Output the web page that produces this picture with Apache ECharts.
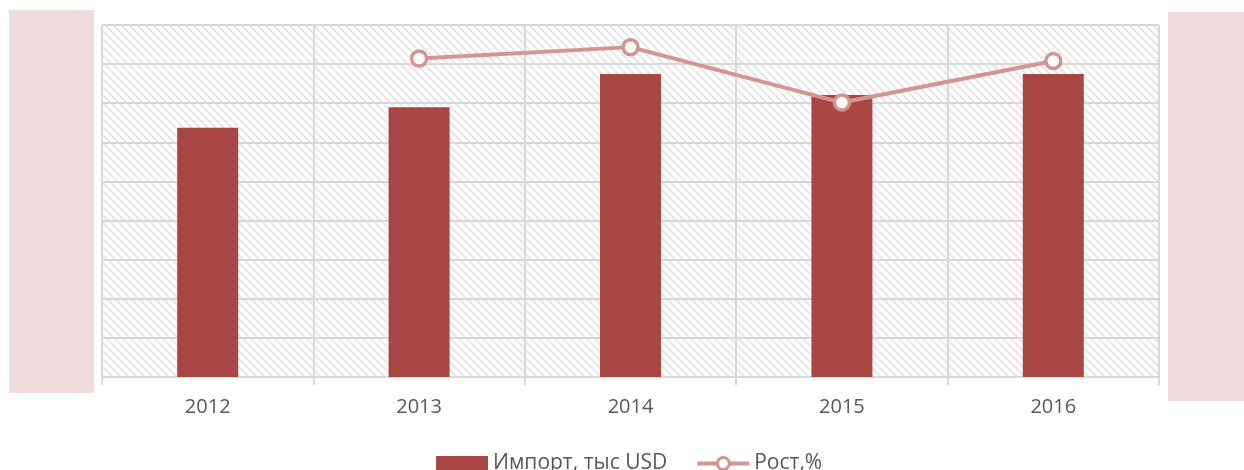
<!DOCTYPE html>
<html>
<head>
<meta charset="utf-8">
<script src="https://cdn.jsdelivr.net/npm/echarts@6/dist/echarts.min.js"></script>
<style>
	html, body { margin: 0; padding: 0; background: #fff; }
	#chart { width: 1244px; height: 470px; }
</style>
</head>
<body>
<div id="chart"></div>
<script>
// данные
const years = ['2012', '2013', '2014', '2015', '2016'];
const importValues = [6370, 6900, 7750, 7210, 7750];
const growthValues = [null, 8.3, 12.3, -7.0, 7.5];

// штриховка фона области построения
const makeHatch = () => {
	const c = document.createElement('canvas');
	c.width = 8;
	c.height = 8;
	const ctx = c.getContext('2d');
	ctx.fillStyle = '#ffffff';
	ctx.fillRect(0, 0, 8, 8);
	ctx.strokeStyle = '#e9e9e9';
	ctx.lineWidth = 2.2;
	ctx.beginPath();
	ctx.moveTo(-2, -2); ctx.lineTo(10, 10);
	ctx.moveTo(-10, -2); ctx.lineTo(2, 10);
	ctx.moveTo(6, -2); ctx.lineTo(18, 10);
	ctx.stroke();
	return c;
};

const gridColor = '#d9d9d9';
const lineColor = '#d39493';
const textColor = '#595959';
const font = '"Open Sans", "Noto Sans", sans-serif';

const option = {
	animation: false,
	textStyle: { fontFamily: font },
	grid: {
		left: 102,
		right: 85,
		top: 25,
		bottom: 93,
		show: true,
		borderWidth: 0,
		backgroundColor: { image: makeHatch(), repeat: 'repeat' },
	},
	graphic: [
		{ type: 'rect', left: 9, top: 10, shape: { width: 85, height: 383 }, style: { fill: '#f0dcdc' }, z: 100 },
		{ type: 'rect', left: 1168, top: 12, shape: { width: 76, height: 389 }, style: { fill: '#f0dcdc' }, z: 100 },
	],
	legend: {
		top: 448,
		left: 431,
		itemGap: 28,
		itemWidth: 52,
		itemHeight: 15,
		textStyle: { color: textColor, fontSize: 21, fontFamily: font },
		data: [
			{ name: 'Импорт, тыс USD', icon: 'rect' },
			{
				name: 'Рост,%',
				lineStyle: { width: 4, color: lineColor },
				itemStyle: { color: '#ffffff', borderColor: lineColor, borderWidth: 3 },
			},
		],
	},
	xAxis: {
		type: 'category',
		data: years,
		boundaryGap: true,
		axisLine: { lineStyle: { color: gridColor, width: 2 } },
		axisTick: { show: true, length: 8, lineStyle: { color: gridColor, width: 2 } },
		axisLabel: { color: textColor, fontSize: 20, margin: 20 },
		splitLine: { show: true, lineStyle: { color: gridColor, width: 2 } },
	},
	yAxis: [
		{
			type: 'value',
			min: 0,
			max: 9000,
			interval: 1000,
			axisLine: { show: false },
			axisTick: { show: false },
			axisLabel: { show: false },
			splitLine: { show: true, lineStyle: { color: gridColor, width: 2 } },
		},
		{
			type: 'value',
			min: -102.5,
			max: 20,
			axisLine: { show: false },
			axisTick: { show: false },
			axisLabel: { show: false },
			splitLine: { show: false },
		},
	],
	series: [
		{
			name: 'Импорт, тыс USD',
			type: 'bar',
			data: importValues,
			barWidth: 61,
			itemStyle: { color: '#a94744' },
		},
		{
			name: 'Рост,%',
			type: 'line',
			yAxisIndex: 1,
			data: growthValues,
			symbol: 'circle',
			symbolSize: 15,
			lineStyle: { color: lineColor, width: 4 },
			itemStyle: { color: '#ffffff', borderColor: lineColor, borderWidth: 3.5 },
		},
	],
};

const myEcharts = echarts.init(document.getElementById('chart'));
myEcharts.setOption(option);
</script>
</body>
</html>
